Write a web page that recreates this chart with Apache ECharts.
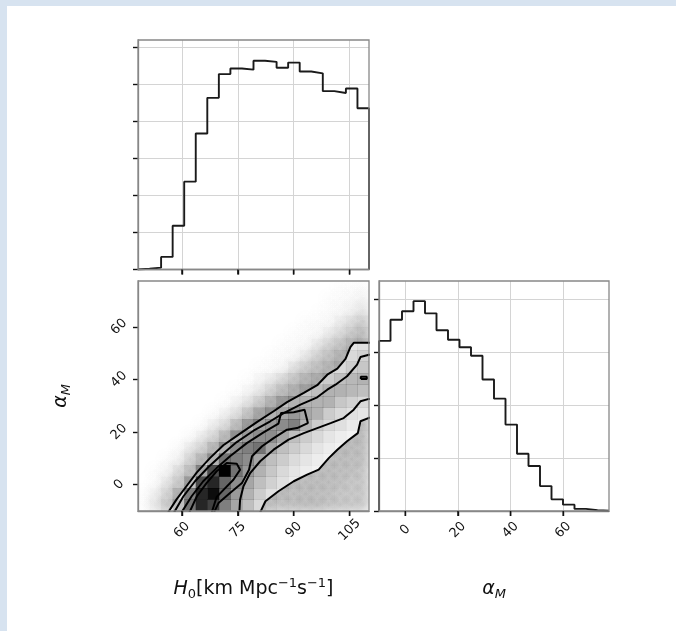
<!DOCTYPE html>
<html><head><meta charset="utf-8">
<script src="https://cdn.jsdelivr.net/npm/echarts@6/dist/echarts.min.js"></script>
<style>
html,body{margin:0;padding:0;background:#d7e3f0;overflow:hidden;}
#paper{position:absolute;left:7px;top:6px;width:669px;height:625px;background:#fff;}
#chart{position:absolute;left:0;top:0;width:676px;height:631px;}
</style></head><body>
<div id="paper"></div><div id="chart"></div>
<script>
// ---- data ----
const h0Edges = [48.2,51.3,54.4,57.5,60.6,63.7,66.8,69.9,73.0,76.1,79.2,82.3,85.4,88.5,91.6,94.7,97.8,100.9,104.0,107.1,110.2];
const h0Counts = [2,5,34,118,237,367,463,527,542,539,563,560,544,558,534,529,481,476,488,435];
const amEdges = [-10,-5.63,-1.26,3.11,7.48,11.85,16.22,20.59,24.96,29.33,33.7,38.07,42.44,46.81,51.18,55.55,59.92,64.29,68.66,73.03,77.4];
const amCounts = [321,361,377,396,373,341,323,309,293,248,212,163,108,85,47,22,12,4,1.3,0.6];
const h0Ticks = [60,75,90,105];
const amTicks = [0,20,40,60];
const h0HistTicks = [0,100,200,300,400,500,600];
const amHistTicks = [0,100,200,300,400];
// scatter-cloud darkness per 2D bin (rows: alpha bins bottom->top, cols: H0 bins)
const cloud2d = [
 [0.03,0.15,0.30,0.35,0.35,0.35,0.35,0.35,0.35,0.35,0.35,0.32,0.35,0.38,0.40,0.40,0.38,0.36,0.34,0.32],
 [0.02,0.10,0.25,0.35,0.35,0.35,0.35,0.35,0.35,0.35,0.35,0.35,0.35,0.38,0.40,0.40,0.38,0.36,0.35,0.34],
 [0,0.04,0.15,0.30,0.35,0.35,0.35,0.35,0.35,0.35,0.35,0.35,0.35,0.35,0.38,0.40,0.40,0.38,0.36,0.35],
 [0,0.02,0.08,0.20,0.32,0.35,0.35,0.35,0.35,0.35,0.35,0.35,0.35,0.35,0.35,0.38,0.40,0.40,0.38,0.36],
 [0,0,0.03,0.10,0.25,0.35,0.35,0.35,0.35,0.35,0.35,0.35,0.35,0.35,0.35,0.35,0.38,0.40,0.40,0.38],
 [0,0,0,0.04,0.12,0.25,0.35,0.35,0.35,0.35,0.35,0.35,0.35,0.35,0.35,0.35,0.35,0.40,0.40,0.40],
 [0,0,0,0,0.04,0.10,0.22,0.33,0.35,0.35,0.35,0.35,0.35,0.35,0.35,0.35,0.35,0.38,0.40,0.40],
 [0,0,0,0,0,0.03,0.08,0.18,0.30,0.35,0.35,0.35,0.35,0.35,0.35,0.35,0.35,0.35,0.38,0.40],
 [0,0,0,0,0,0,0.03,0.06,0.15,0.28,0.35,0.35,0.35,0.35,0.35,0.35,0.35,0.35,0.35,0.38],
 [0,0,0,0,0,0,0,0.02,0.05,0.12,0.25,0.33,0.35,0.35,0.35,0.35,0.35,0.35,0.35,0.35],
 [0,0,0,0,0,0,0,0,0.02,0.04,0.10,0.22,0.32,0.35,0.35,0.35,0.35,0.35,0.35,0.35],
 [0,0,0,0,0,0,0,0,0,0.02,0.04,0.08,0.18,0.30,0.35,0.38,0.38,0.35,0.35,0.35],
 [0,0,0,0,0,0,0,0,0,0,0.02,0.03,0.07,0.15,0.27,0.35,0.38,0.40,0.38,0.38],
 [0,0,0,0,0,0,0,0,0,0,0,0.02,0.03,0.06,0.13,0.25,0.35,0.40,0.40,0.40],
 [0,0,0,0,0,0,0,0,0,0,0,0,0.02,0.03,0.05,0.12,0.23,0.33,0.40,0.40],
 [0,0,0,0,0,0,0,0,0,0,0,0,0,0.02,0.03,0.05,0.10,0.20,0.30,0.38],
 [0,0,0,0,0,0,0,0,0,0,0,0,0,0,0.02,0.03,0.05,0.10,0.18,0.30],
 [0,0,0,0,0,0,0,0,0,0,0,0,0,0,0,0.01,0.03,0.05,0.10,0.18],
 [0,0,0,0,0,0,0,0,0,0,0,0,0,0,0,0,0.02,0.03,0.05,0.08],
 [0,0,0,0,0,0,0,0,0,0,0,0,0,0,0,0,0,0.02,0.02,0.04]
];
// 2D histogram density shading per bin (0 none .. 1 black)
const density2d = [
 [0,0.02,0.06,0.25,0.55,0.85,0.75,0.50,0.35,0.25,0.15,0.08,0.05,0.04,0.03,0.03,0.02,0.02,0.02,0.02],
 [0,0.01,0.04,0.15,0.50,0.85,0.95,0.60,0.40,0.30,0.20,0.12,0.08,0.05,0.04,0.03,0.03,0.02,0.02,0.02],
 [0,0,0.02,0.06,0.25,0.70,0.85,0.60,0.45,0.35,0.25,0.18,0.12,0.08,0.05,0.04,0.03,0.03,0.02,0.02],
 [0,0,0,0.03,0.10,0.35,0.70,1.00,0.55,0.40,0.30,0.22,0.15,0.10,0.07,0.05,0.04,0.03,0.03,0.02],
 [0,0,0,0,0.04,0.12,0.30,0.55,0.50,0.45,0.35,0.25,0.20,0.14,0.10,0.07,0.05,0.04,0.03,0.03],
 [0,0,0,0,0.02,0.04,0.12,0.30,0.45,0.50,0.55,0.35,0.25,0.20,0.15,0.10,0.07,0.05,0.04,0.03],
 [0,0,0,0,0,0.02,0.04,0.12,0.30,0.40,0.45,0.45,0.35,0.25,0.20,0.15,0.10,0.07,0.05,0.04],
 [0,0,0,0,0,0,0.02,0.04,0.12,0.25,0.35,0.40,0.45,0.50,0.30,0.20,0.15,0.12,0.08,0.05],
 [0,0,0,0,0,0,0,0.02,0.04,0.10,0.20,0.30,0.35,0.40,0.35,0.30,0.20,0.15,0.12,0.10],
 [0,0,0,0,0,0,0,0,0.02,0.04,0.08,0.15,0.25,0.30,0.30,0.30,0.30,0.22,0.18,0.15],
 [0,0,0,0,0,0,0,0,0,0.02,0.03,0.06,0.10,0.15,0.22,0.25,0.30,0.30,0.28,0.25],
 [0,0,0,0,0,0,0,0,0,0,0.02,0.03,0.05,0.08,0.12,0.15,0.20,0.25,0.28,0.30],
 [0,0,0,0,0,0,0,0,0,0,0,0,0,0.03,0.05,0.07,0.10,0.15,0.20,0.22],
 [0,0,0,0,0,0,0,0,0,0,0,0,0,0,0.02,0.04,0.06,0.10,0.15,0.18],
 [0,0,0,0,0,0,0,0,0,0,0,0,0,0,0,0.02,0.04,0.06,0.10,0.12],
 [0,0,0,0,0,0,0,0,0,0,0,0,0,0,0,0,0.02,0.03,0.05,0.06],
 [0,0,0,0,0,0,0,0,0,0,0,0,0,0,0,0,0,0.02,0.03,0.03],
 [0,0,0,0,0,0,0,0,0,0,0,0,0,0,0,0,0,0,0,0],
 [0,0,0,0,0,0,0,0,0,0,0,0,0,0,0,0,0,0,0,0],
 [0,0,0,0,0,0,0,0,0,0,0,0,0,0,0,0,0,0,0,0]
];
// contour lines [H0, alpha_M]
const contour2s = [[56.3,-10.5],[58.6,-5.5],[61.3,-0.4],[64.0,4.7],[67.5,10.1],[71.1,15.0],[75.6,19.4],[80.1,23.8],[84.6,27.9],[88.2,31.4],[92.7,34.9],[96.3,37.8],[99.0,41.8],[101.7,44.1],[103.9,47.8],[105.2,52.3],[106.1,53.9],[112,53.9],[112,25.4],[110.2,25.4],[107.9,24.1],[107.2,19.6],[104.3,16.5],[101.7,13.3],[99.4,10.1],[96.7,5.7],[93.6,3.8],[90.0,1.3],[85.9,-2.5],[82.4,-6.3],[81.0,-10.5]];
const contour15s = [[57.9,-10.5],[60.4,-4.4],[63.5,1.3],[67.1,6.7],[70.7,11.4],[74.7,16.2],[79.2,20.5],[83.7,24.1],[87.3,27.2],[91.8,30.4],[96.3,33.2],[99.0,36.1],[101.2,38.0],[104.3,41.2],[107.0,45.6],[107.9,48.5],[110.2,49.4],[112,49.4],[112,32.6],[110.2,32.6],[107.9,31.7],[106.1,28.5],[103.4,25.3],[99.9,23.4],[96.3,21.5],[92.7,19.6],[88.6,17.1],[84.6,13.3],[81.0,8.9],[78.3,4.4],[76.5,-0.6],[75.6,-5.7],[75.4,-10.5]];
const contour1s = [[59.9,-10.5],[62.6,-4.4],[65.7,1.3],[69.3,6.3],[72.9,10.8],[77.4,15.8],[81.9,19.9],[85.9,23.2],[86.6,27.2],[90.0,27.5],[92.9,28.5],[93.8,23.4],[90.9,21.5],[88.2,20.9],[84.6,17.7],[81.5,14.6],[78.8,10.8],[78.0,5.7],[76.1,0.6],[72.9,-3.2],[69.8,-7.0],[68.6,-10.5]];
const contour05s = [[62.0,-10.5],[64.0,-4.4],[66.6,0.6],[69.3,5.1],[72.0,8.2],[74.7,8.0],[75.6,5.7],[73.8,1.9],[71.6,-1.3],[69.3,-4.7],[68.0,-10.5]];
const contourBlob = [[108.0,40.2],[109.6,40.2],[109.6,41.0],[108.0,41.0],[108.0,40.2]];

// ---- build ----
function stepLine(edges, counts){
  const pts=[[edges[0],0]];
  counts.forEach((c,i)=>{pts.push([edges[i],c]);pts.push([edges[i+1],c]);});
  pts.push([edges[edges.length-1],0]);
  return pts;
}
function gridCells(grid){
  const out=[];
  grid.forEach((row,j)=>row.forEach((d,i)=>{ if(d>0) out.push([h0Edges[i],h0Edges[i+1],amEdges[j],amEdges[j+1],d]); }));
  return out;
}

const FONT='DejaVu Sans';
const frameCol='#888888', gridCol='#d4d4d4', tickCol='#111';
function tick(custom){ const t={show:true,inside:false,length:5,lineStyle:{color:tickCol,width:1.4}}; if(custom) t.customValues=custom; return t; }
function lab(custom,show){ const l={show:show,rotate:45,align:'center',verticalAlign:'middle',margin:19,fontFamily:FONT,fontSize:13,color:'#111'}; if(custom) l.customValues=custom; return l; }
function axLine(){ return {show:true,onZero:false,lineStyle:{color:frameCol,width:1.3}}; }
const nameRich={
  it:{fontFamily:FONT,fontStyle:'italic',fontSize:19,lineHeight:24,color:'#111'},
  rm:{fontFamily:FONT,fontSize:19,lineHeight:24,color:'#111'},
  sb:{fontFamily:FONT,fontSize:13,lineHeight:12,verticalAlign:'bottom',color:'#111'},
  sbi:{fontFamily:FONT,fontStyle:'italic',fontSize:13,lineHeight:12,verticalAlign:'bottom',color:'#111'},
  sp:{fontFamily:FONT,fontSize:13,lineHeight:15,verticalAlign:'top',color:'#111'}
};
const gridBase={show:true,z:10,backgroundColor:'transparent',borderColor:frameCol,borderWidth:1.3};
// bottom tick marks drawn through the axis scale (x value at the axis minimum of y)
function tickSeries(xi, yi, values, yBase){
  return {type:'custom',xAxisIndex:xi,yAxisIndex:yi,data:values.map(v=>[v,yBase]),clip:false,silent:true,z:11,
    renderItem:function(params,api){
      const p=api.coord([api.value(0),api.value(1)]);
      return {type:'line',shape:{x1:p[0],y1:p[1],x2:p[0],y2:p[1]+5},style:{stroke:tickCol,lineWidth:1.4}};
    }};
}

const option={
  animation:false,
  grid:[
    Object.assign({left:138,top:40,width:231,height:229.5},gridBase),
    Object.assign({left:138,top:281,width:231,height:230},gridBase),
    Object.assign({left:379,top:281,width:230,height:230},gridBase)
  ],
  xAxis:[
    {gridIndex:0,type:'value',position:'bottom',min:48.2,max:110.2,axisLine:axLine(),axisTick:tick(h0Ticks),axisLabel:lab(h0Ticks,false),splitLine:{show:true,lineStyle:{color:gridCol,width:1}}},
    {gridIndex:1,type:'value',position:'bottom',min:48.2,max:110.2,axisLine:axLine(),axisTick:tick(h0Ticks),axisLabel:lab(h0Ticks,true),splitLine:{show:false},
      name:'{it|H}{sb|0}{rm|[km Mpc}{sp|−1}{rm|s}{sp|−1}{rm|]}',nameLocation:'middle',nameGap:66,nameTextStyle:{rich:nameRich}},
    {gridIndex:2,type:'value',position:'bottom',min:-10,max:77.4,axisLine:axLine(),axisTick:tick(amTicks),axisLabel:lab(amTicks,true),splitLine:{show:true,lineStyle:{color:gridCol,width:1}},
      name:'{it|α}{sbi|M}',nameLocation:'middle',nameGap:66,nameTextStyle:{rich:nameRich}}
  ],
  yAxis:[
    {gridIndex:0,type:'value',position:'left',min:0,max:619,axisLine:axLine(),axisTick:tick(h0HistTicks),axisLabel:{show:false,customValues:h0HistTicks},splitLine:{show:true,lineStyle:{color:gridCol,width:1}}},
    {gridIndex:1,type:'value',position:'left',min:-10,max:77.4,axisLine:axLine(),axisTick:tick(amTicks),axisLabel:lab(amTicks,true),splitLine:{show:false},
      name:'{it|α}{sbi|M}',nameLocation:'middle',nameGap:65,nameTextStyle:{rich:nameRich}},
    {gridIndex:2,type:'value',position:'left',min:0,max:434,axisLine:axLine(),axisTick:tick(amHistTicks),axisLabel:{show:false,customValues:amHistTicks},splitLine:{show:true,lineStyle:{color:gridCol,width:1}}}
  ],
  series:[
    {type:'line',xAxisIndex:0,yAxisIndex:0,data:stepLine(h0Edges,h0Counts),showSymbol:false,lineStyle:{color:'#1a1a1a',width:1.9},silent:true},
    {type:'line',xAxisIndex:2,yAxisIndex:2,data:stepLine(amEdges,amCounts),showSymbol:false,lineStyle:{color:'#1a1a1a',width:1.9},silent:true},
    {type:'custom',xAxisIndex:1,yAxisIndex:1,data:gridCells(cloud2d),encode:{x:[0,1],y:[2,3]},silent:true,clip:true,z:1,
      renderItem:function(params,api){
        const p0=api.coord([api.value(0),api.value(2)]);
        const p1=api.coord([api.value(1),api.value(3)]);
        const cx=(p0[0]+p1[0])/2, cy=(p0[1]+p1[1])/2, r=1.15*(p1[0]-p0[0]);
        const a=Math.min(1,api.value(4)/1.9);
        return {type:'circle',shape:{cx:cx,cy:cy,r:r},style:{fill:{type:'radial',x:0.5,y:0.5,r:0.5,colorStops:[{offset:0,color:'rgba(30,30,30,'+a+')'},{offset:1,color:'rgba(30,30,30,0)'}]}}};
      }},
    {type:'custom',xAxisIndex:1,yAxisIndex:1,data:[[80,30]],silent:true,clip:true,z:2,
      renderItem:function(params,api){
        const pts=contour2s.map(p=>api.coord(p));
        return {type:'polygon',shape:{points:pts},style:{fill:'#fff'}};
      }},
    {type:'custom',xAxisIndex:1,yAxisIndex:1,data:gridCells(density2d),encode:{x:[0,1],y:[2,3]},silent:true,clip:true,z:3,
      renderItem:function(params,api){
        const p0=api.coord([api.value(0),api.value(2)]);
        const p1=api.coord([api.value(1),api.value(3)]);
        return {type:'rect',shape:{x:p0[0],y:p1[1],width:p1[0]-p0[0]+0.4,height:p0[1]-p1[1]+0.4},style:{fill:'rgba(0,0,0,'+api.value(4)+')'}};
      }},
    ...[contour2s,contour15s,contour1s,contour05s,contourBlob].map(c=>({type:'line',xAxisIndex:1,yAxisIndex:1,data:c,showSymbol:false,clip:true,silent:true,z:4,lineStyle:{color:'#000',width:2}})),
    tickSeries(0,0,h0Ticks,0),
    tickSeries(1,1,h0Ticks,-10),
    tickSeries(2,2,amTicks,0)
  ]
};
const chart=echarts.init(document.getElementById('chart'),null,{renderer:'canvas'});
chart.setOption(option);
</script></body></html>
